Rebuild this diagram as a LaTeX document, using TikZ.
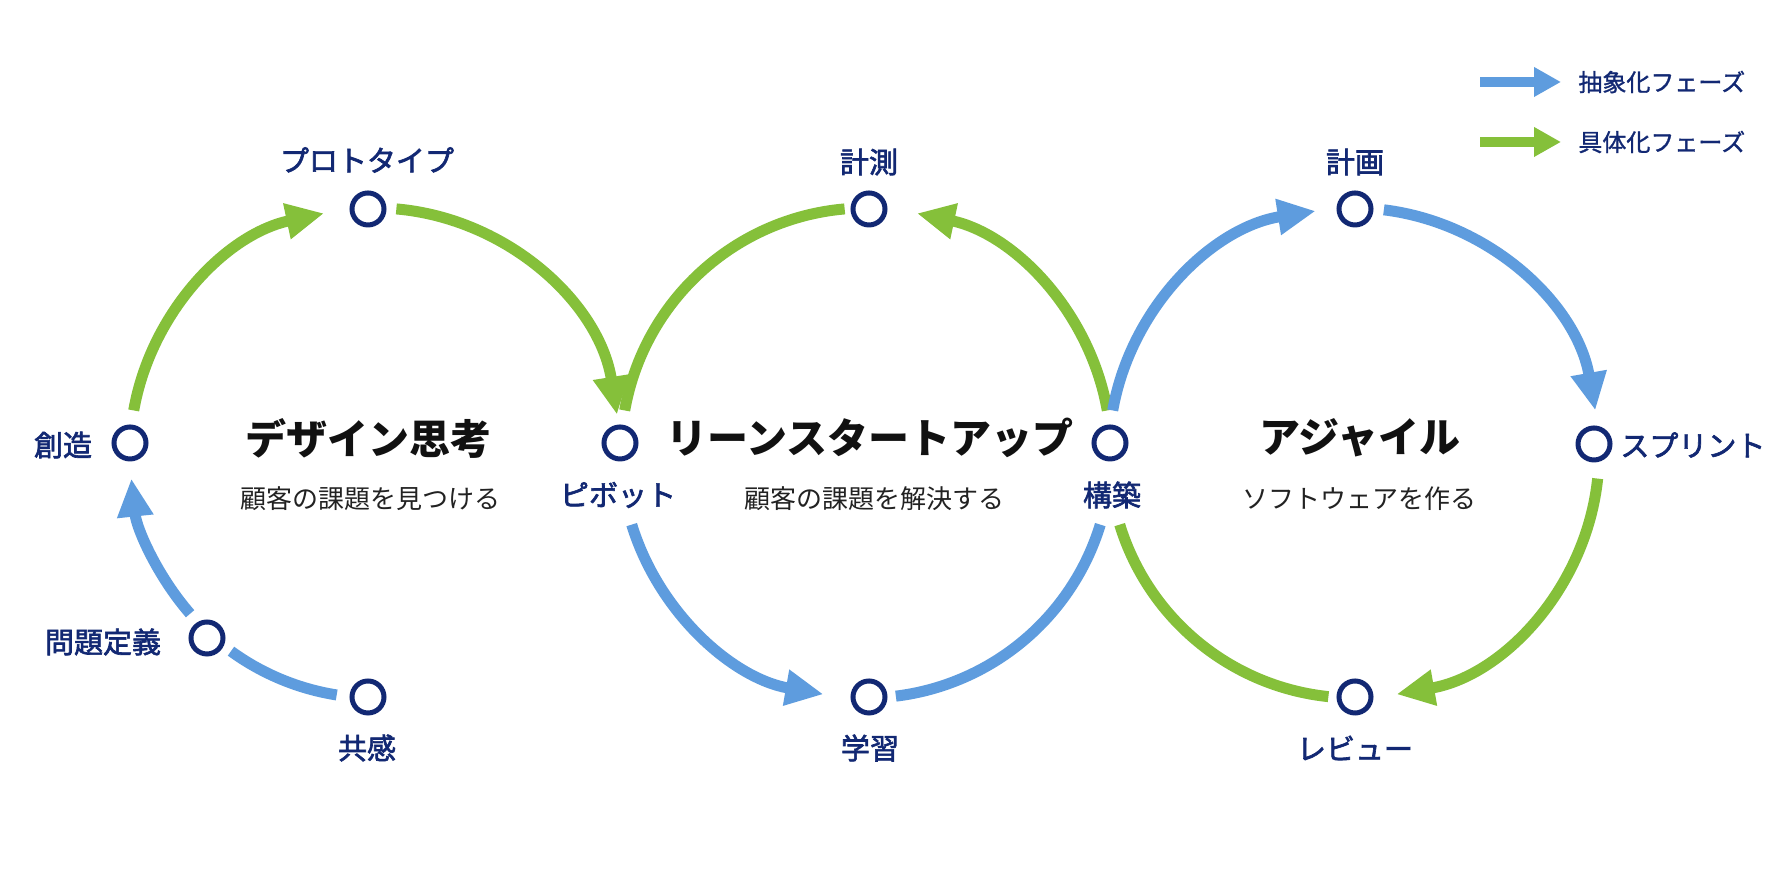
\documentclass[tikz,border=0pt]{standalone}
\usepackage{fontspec}
\setmainfont{Noto Sans CJK JP}
\newfontfamily\jpmed[FakeBold=2.2]{Noto Sans CJK JP}
\newfontfamily\jplight[FakeBold=1.2]{Noto Sans CJK JP}
\usetikzlibrary{arrows.meta}
\definecolor{navy}{RGB}{18,40,115}
\definecolor{abblue}{RGB}{94,156,222}
\definecolor{abgreen}{RGB}{133,192,58}
\definecolor{titleblack}{RGB}{17,17,17}
\definecolor{subgray}{RGB}{34,34,34}
\tikzset{
  pt/.style={circle, draw=navy, line width=2.5pt, minimum size=16pt, inner sep=0pt, fill=white},
  lbl/.style={text=navy, font=\fontsize{14.5}{16}\selectfont\jpmed, inner sep=0pt},
  ttl/.style={text=titleblack, font=\fontsize{20.5}{22}\selectfont\bfseries, inner sep=0pt},
  sub/.style={text=subgray, font=\fontsize{13}{15}\selectfont, inner sep=0pt},
  leg/.style={text=navy, font=\fontsize{12}{14}\selectfont\jplight, inner sep=0pt, anchor=west},
  bluearc/.style={draw=abblue, line width=5.5pt},
  greenarc/.style={draw=abgreen, line width=5.5pt},
  tipped/.style={-{Triangle[length=19pt,width=17pt]}},
  legarrow/.style={line width=5pt, -{Triangle[length=13.5pt,width=14pt]}}
}
\begin{document}
\begin{tikzpicture}[x=0.5pt,y=0.5pt]
\useasboundingbox (0,0) rectangle (1774,887);
\fill[white] (0,0) rectangle (1774,887);

% circle centres
\coordinate (cL) at (375,434);
\coordinate (cM) at (866,434);
\coordinate (cR) at (1354,434);

% arcs: left circle
\draw[bluearc] ([shift={(261:245)}]cL) arc[start angle=261, end angle=234, radius=245];
\draw[bluearc,tipped] ([shift={(221:245)}]cL) arc[start angle=221, end angle=186, radius=245];
\draw[greenarc,tipped] ([shift={(170:245)}]cL) arc[start angle=170, end angle=102, radius=245];
\draw[greenarc,tipped] ([shift={(85:245)}]cL) arc[start angle=85, end angle=9, radius=245];
% middle circle
\draw[greenarc] ([shift={(170:245)}]cM) arc[start angle=170, end angle=95, radius=245];
\draw[greenarc,tipped] ([shift={(10:245)}]cM) arc[start angle=10, end angle=78, radius=245];
\draw[bluearc,tipped] ([shift={(197:245)}]cM) arc[start angle=197, end angle=260, radius=245];
\draw[bluearc] ([shift={(277:245)}]cM) arc[start angle=277, end angle=343, radius=245];
% right circle
\draw[bluearc,tipped] ([shift={(170:245)}]cR) arc[start angle=170, end angle=99, radius=245];
\draw[bluearc,tipped] ([shift={(83:245)}]cR) arc[start angle=83, end angle=10, radius=245];
\draw[greenarc,tipped] ([shift={(354:245)}]cR) arc[start angle=354, end angle=280, radius=245];
\draw[greenarc] ([shift={(264:245)}]cR) arc[start angle=264, end angle=197, radius=245];

% points
\node[pt] (proto) at (368,678) {};
\node[pt] (souzou) at (130,444) {};
\node[pt] (mondai) at (207,249) {};
\node[pt] (kyoukan) at (368,190) {};
\node[pt] (pivot) at (620,444) {};
\node[pt] (keisoku) at (869,678) {};
\node[pt] (gakushu) at (869,190) {};
\node[pt] (kouchiku) at (1110,444) {};
\node[pt] (keikaku) at (1355,678) {};
\node[pt] (sprint) at (1594,443) {};
\node[pt] (review) at (1355,190) {};

% point labels
\node[lbl] (lproto) at (367,727) {プロトタイプ};
\node[lbl] (lsouzou) at (63,442) {創造};
\node[lbl] (lmondai) at (103,245) {問題定義};
\node[lbl] (lkyoukan) at (367,139) {共感};
\node[lbl] (lpivot) at (618,392) {ピボット};
\node[lbl] (lkeisoku) at (869,725) {計測};
\node[lbl] (lgakushu) at (870,139) {学習};
\node[lbl] (lkouchiku) at (1112,392) {構築};
\node[lbl] (lkeikaku) at (1355,725) {計画};
\node[lbl,anchor=west] (lsprint) at (1620,442) {スプリント};
\node[lbl] (lreview) at (1355,139) {レビュー};

% titles
\node[ttl] (t1) at (368,448) {デザイン思考};
\node[sub] (s1) at (370,388) {顧客の課題を見つける};
\node[ttl] (t2) at (870,449) {リーンスタートアップ};
\node[sub] (s2) at (874,388) {顧客の課題を解決する};
\node[ttl] (t3) at (1360,449) {アジャイル};
\node[sub] (s3) at (1359,388) {ソフトウェアを作る};

% legend
\coordinate (lb1) at (1480,805);
\coordinate (lb2) at (1561,805);
\coordinate (lg1) at (1480,745);
\coordinate (lg2) at (1561,745);
\draw[legarrow, draw=abblue, fill=abblue] (lb1) -- (lb2);
\draw[legarrow, draw=abgreen, fill=abgreen] (lg1) -- (lg2);
\node[leg] (legb) at (1578,805) {抽象化フェーズ};
\node[leg] (legg) at (1578,745) {具体化フェーズ};
\end{tikzpicture}
\end{document}
